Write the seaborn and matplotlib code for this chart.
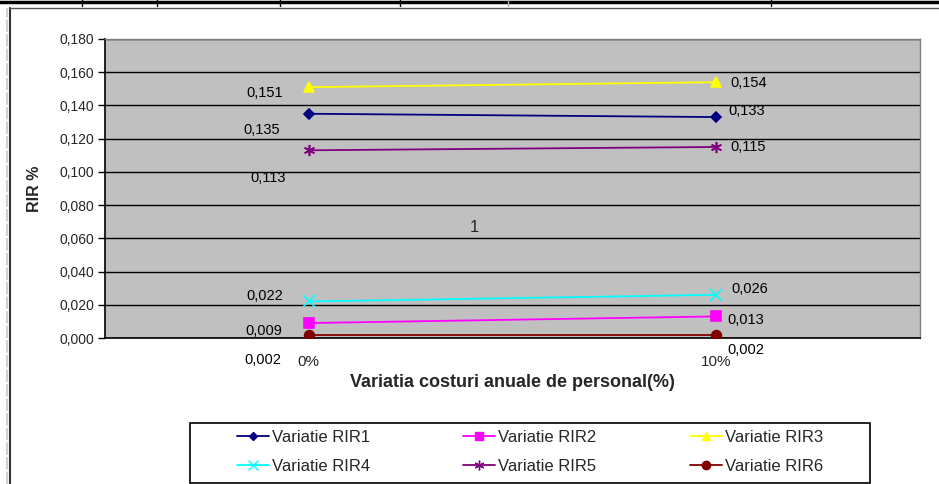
import numpy as np
import pandas as pd
import seaborn as sns
import matplotlib
matplotlib.use("Agg")
import matplotlib.pyplot as plt
from matplotlib.lines import Line2D
from matplotlib.patches import Rectangle
from matplotlib.ticker import FuncFormatter, FixedLocator

# ---- data ----
categories = ["0%", "10%"]
rir1 = [0.135, 0.133]
rir2 = [0.009, 0.013]
rir3 = [0.151, 0.154]
rir4 = [0.022, 0.026]
rir5 = [0.113, 0.115]
rir6 = [0.002, 0.002]
series_names = ["Variatie RIR1", "Variatie RIR2", "Variatie RIR3",
                "Variatie RIR4", "Variatie RIR5", "Variatie RIR6"]
series_values = [rir1, rir2, rir3, rir4, rir5, rir6]
y_ticks = [0.0, 0.02, 0.04, 0.06, 0.08, 0.10, 0.12, 0.14, 0.16, 0.18]

# ---- styles ----
colors = ["#000080", "#FF00FF", "#FFFF00", "#00FFFF", "#800080", "#800000"]
markers = ["D", "s", "^", "x", (6, 2, 0), "o"]
msizes = [5, 7, 7, 8, 8, 7]
# label offsets in pixels (left point, right point)
left_off = [(-47, -16), (-45, -8), (-44, -6), (-44, 5), (-41, -28), (-46, -25)]
right_off = [(30, 6), (30, -4), (32, -1), (33, 6), (32, 0), (30, -15)]

sns.set_style("white")
plt.rcParams["font.family"] = ["Liberation Sans", "DejaVu Sans"]

fig = plt.figure(figsize=(9.39, 4.84), dpi=100)
W, H = 939, 484
ax = fig.add_axes([105 / W, 1 - 338 / H, (920 - 105) / W, (338 - 39) / H])
ax.set_facecolor("#C0C0C0")

xpos = np.arange(len(categories)) + 0.5
rows = []
for name, vals in zip(series_names, series_values):
    for xp, v in zip(xpos, vals):
        rows.append({"series": name, "x": xp, "y": v})
df = pd.DataFrame(rows)

for i, name in enumerate(series_names):
    sub = df[df["series"] == name]
    sns.lineplot(data=sub, x="x", y="y", ax=ax, color=colors[i],
                 marker=markers[i], markersize=msizes[i],
                 markeredgecolor=colors[i], markerfacecolor=colors[i],
                 markeredgewidth=1.2, linewidth=1.3, label=name, legend=False,
                 zorder=3)
    sub_vals = sub["y"].tolist()
    sub_x = sub["x"].tolist()
    for j, (xv, yv) in enumerate(zip(sub_x, sub_vals)):
        off = left_off[i] if j == 0 else right_off[i]
        ax.annotate(f"{yv:.3f}".replace(".", ","), (xv, yv),
                    xytext=off, textcoords="offset pixels",
                    ha="center", va="center", fontsize=10.5, color="black",
                    annotation_clip=False)

ax.set_xlim(0, len(categories))
ax.set_ylim(0, 0.18)
ax.yaxis.set_major_locator(FixedLocator(y_ticks))
ax.yaxis.set_major_formatter(FuncFormatter(lambda v, p: f"{v:.3f}".replace(".", ",")))
ax.grid(axis="y", color="black", linewidth=1.0)
ax.grid(axis="x", visible=False)
ax.set_axisbelow(True)

ax.set_xticks(xpos)
ax.set_xticklabels(categories)
ax.set_xticks(np.arange(len(categories) + 1), minor=True)
ax.tick_params(axis="x", which="major", length=0, pad=12, labelsize=11)
ax.tick_params(axis="x", which="minor", length=5, width=1, color="black",
               direction="out")
ax.tick_params(axis="y", which="major", length=5, width=1, color="black",
               direction="out", labelsize=10, pad=3, left=True)

for s in ["top", "right"]:
    ax.spines[s].set_color("#808080")
    ax.spines[s].set_linewidth(1)
for s in ["left", "bottom"]:
    ax.spines[s].set_color("black")
    ax.spines[s].set_linewidth(1.2)

ax.set_xlabel("Variatia costuri anuale de personal(%)", fontsize=13,
              fontweight="bold", labelpad=4)
ax.set_ylabel("RIR %", fontsize=11.5, fontweight="bold", labelpad=12)

fig.text(474 / W, 1 - 228 / H, "1", fontsize=12, ha="center", va="center")

# legend (row-major order as in the reference)
handles = [Line2D([0], [0], color=colors[i], marker=markers[i],
                  markersize=msizes[i] - 1, markerfacecolor=colors[i],
                  markeredgecolor=colors[i], linewidth=1.3)
           for i in range(len(series_names))]
order = [0, 3, 1, 4, 2, 5]
fig.legend([handles[k] for k in order], [series_names[k] for k in order],
           loc="center", bbox_to_anchor=(530 / W, 1 - 452 / H), ncol=3,
           frameon=False, fontsize=12, handlelength=1.9, handletextpad=0.2,
           columnspacing=5.6, labelspacing=0.85)
fig.patches.append(Rectangle((190 / W, 1 - 483 / H), 680 / W, 60 / H,
                             transform=fig.transFigure, fill=False,
                             edgecolor="black", linewidth=1.2))

# chart frame and document table lines
fig.add_artist(Line2D([10 / W, 10 / W], [0, 1 - 8 / H], transform=fig.transFigure,
                      color="#333333", linewidth=1.5))
fig.add_artist(Line2D([10 / W, 1], [1 - 8 / H, 1 - 8 / H], transform=fig.transFigure,
                      color="#555555", linewidth=1.0))
fig.add_artist(Line2D([7 / W, 7 / W], [0, 1 - 8 / H], transform=fig.transFigure,
                      color="#D0D0D0", linewidth=1.5, linestyle=(0, (6, 1))))
fig.add_artist(Line2D([0, 1], [1 - 2 / H, 1 - 2 / H], transform=fig.transFigure,
                      color="black", linewidth=2.5))
for xv in [82, 157, 280, 400, 771]:
    fig.add_artist(Line2D([xv / W, xv / W], [1 - 6 / H, 1], transform=fig.transFigure,
                          color="black", linewidth=1.0))
fig.add_artist(Line2D([508 / W, 508 / W], [1 - 6 / H, 1], transform=fig.transFigure,
                      color="#AAAAAA", linewidth=1.0))

fig.savefig("out.png", dpi=100)
